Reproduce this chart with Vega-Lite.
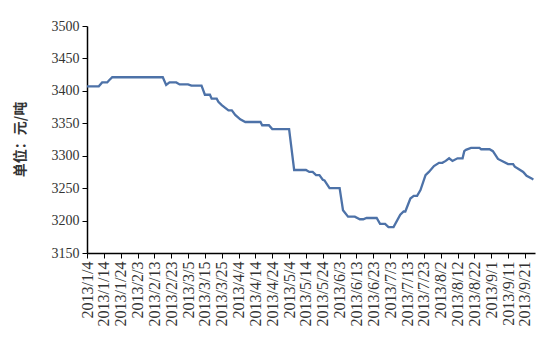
{
  "$schema": "https://vega.github.io/schema/vega-lite/v6.json",
  "width": 448,
  "height": 227,
  "autosize": {"type": "none"},
  "padding": {"left": 87, "top": 26, "right": 3, "bottom": 89},
  "background": "white",
  "config": {"view": {"stroke": null}},
  "data": {
    "values": [
      {"date": "2013/1/4", "price": 3407},
      {"date": "2013/1/11", "price": 3407},
      {"date": "2013/1/13", "price": 3413},
      {"date": "2013/1/16", "price": 3413},
      {"date": "2013/1/17", "price": 3416},
      {"date": "2013/1/19", "price": 3421},
      {"date": "2013/2/18", "price": 3421},
      {"date": "2013/2/20", "price": 3409},
      {"date": "2013/2/22", "price": 3413},
      {"date": "2013/2/26", "price": 3413},
      {"date": "2013/2/28", "price": 3410},
      {"date": "2013/3/5", "price": 3410},
      {"date": "2013/3/7", "price": 3408},
      {"date": "2013/3/13", "price": 3408},
      {"date": "2013/3/15", "price": 3394},
      {"date": "2013/3/18", "price": 3394},
      {"date": "2013/3/19", "price": 3388},
      {"date": "2013/3/22", "price": 3388},
      {"date": "2013/3/23", "price": 3383},
      {"date": "2013/3/25", "price": 3378},
      {"date": "2013/3/29", "price": 3370},
      {"date": "2013/3/31", "price": 3370},
      {"date": "2013/4/2", "price": 3363},
      {"date": "2013/4/5", "price": 3356},
      {"date": "2013/4/8", "price": 3352},
      {"date": "2013/4/17", "price": 3352},
      {"date": "2013/4/18", "price": 3347},
      {"date": "2013/4/22", "price": 3347},
      {"date": "2013/4/24", "price": 3341},
      {"date": "2013/5/4", "price": 3341},
      {"date": "2013/5/7", "price": 3278},
      {"date": "2013/5/14", "price": 3278},
      {"date": "2013/5/16", "price": 3275},
      {"date": "2013/5/18", "price": 3275},
      {"date": "2013/5/20", "price": 3270},
      {"date": "2013/5/22", "price": 3270},
      {"date": "2013/5/24", "price": 3263},
      {"date": "2013/5/25", "price": 3262},
      {"date": "2013/5/28", "price": 3250},
      {"date": "2013/6/3", "price": 3250},
      {"date": "2013/6/5", "price": 3216},
      {"date": "2013/6/8", "price": 3206},
      {"date": "2013/6/12", "price": 3206},
      {"date": "2013/6/15", "price": 3202},
      {"date": "2013/6/17", "price": 3202},
      {"date": "2013/6/19", "price": 3204},
      {"date": "2013/6/25", "price": 3204},
      {"date": "2013/6/27", "price": 3195},
      {"date": "2013/6/30", "price": 3195},
      {"date": "2013/7/2", "price": 3190},
      {"date": "2013/7/5", "price": 3190},
      {"date": "2013/7/9", "price": 3209},
      {"date": "2013/7/11", "price": 3214},
      {"date": "2013/7/12", "price": 3214},
      {"date": "2013/7/15", "price": 3234},
      {"date": "2013/7/17", "price": 3238},
      {"date": "2013/7/19", "price": 3238},
      {"date": "2013/7/21", "price": 3247},
      {"date": "2013/7/24", "price": 3270},
      {"date": "2013/7/26", "price": 3275},
      {"date": "2013/7/29", "price": 3284},
      {"date": "2013/8/1", "price": 3289},
      {"date": "2013/8/3", "price": 3289},
      {"date": "2013/8/5", "price": 3292},
      {"date": "2013/8/7", "price": 3296},
      {"date": "2013/8/9", "price": 3292},
      {"date": "2013/8/12", "price": 3296},
      {"date": "2013/8/15", "price": 3296},
      {"date": "2013/8/16", "price": 3307},
      {"date": "2013/8/17", "price": 3309},
      {"date": "2013/8/20", "price": 3312},
      {"date": "2013/8/25", "price": 3312},
      {"date": "2013/8/26", "price": 3310},
      {"date": "2013/8/31", "price": 3310},
      {"date": "2013/9/2", "price": 3307},
      {"date": "2013/9/5", "price": 3295},
      {"date": "2013/9/8", "price": 3291},
      {"date": "2013/9/11", "price": 3287},
      {"date": "2013/9/14", "price": 3287},
      {"date": "2013/9/15", "price": 3283},
      {"date": "2013/9/17", "price": 3280},
      {"date": "2013/9/20", "price": 3275},
      {"date": "2013/9/22", "price": 3269},
      {"date": "2013/9/25", "price": 3265},
      {"date": "2013/9/26", "price": 3263}
    ]
  },
  "mark": {"type": "line", "color": "#4d72a8", "strokeWidth": 2.3, "interpolate": "linear"},
  "encoding": {
    "x": {
      "field": "date",
      "type": "temporal",
      "scale": {
        "domain": [{"year": 2013, "month": 1, "date": 4}, {"year": 2013, "month": 9, "date": 27}],
        "nice": false
      },
      "axis": {
        "title": null,
        "grid": false,
        "format": "%Y/%-m/%-d",
        "labelAngle": 270,
        "labelOverlap": false,
        "labelFont": "serif",
        "labelFontSize": 16,
        "labelColor": "#333333",
        "labelPadding": 3,
        "tickSize": 5,
        "tickColor": "#000000",
        "domainColor": "#000000",
        "domainWidth": 1.5,
        "values": [
          {"year": 2013, "month": 1, "date": 4},
          {"year": 2013, "month": 1, "date": 14},
          {"year": 2013, "month": 1, "date": 24},
          {"year": 2013, "month": 2, "date": 3},
          {"year": 2013, "month": 2, "date": 13},
          {"year": 2013, "month": 2, "date": 23},
          {"year": 2013, "month": 3, "date": 5},
          {"year": 2013, "month": 3, "date": 15},
          {"year": 2013, "month": 3, "date": 25},
          {"year": 2013, "month": 4, "date": 4},
          {"year": 2013, "month": 4, "date": 14},
          {"year": 2013, "month": 4, "date": 24},
          {"year": 2013, "month": 5, "date": 4},
          {"year": 2013, "month": 5, "date": 14},
          {"year": 2013, "month": 5, "date": 24},
          {"year": 2013, "month": 6, "date": 3},
          {"year": 2013, "month": 6, "date": 13},
          {"year": 2013, "month": 6, "date": 23},
          {"year": 2013, "month": 7, "date": 3},
          {"year": 2013, "month": 7, "date": 13},
          {"year": 2013, "month": 7, "date": 23},
          {"year": 2013, "month": 8, "date": 2},
          {"year": 2013, "month": 8, "date": 12},
          {"year": 2013, "month": 8, "date": 22},
          {"year": 2013, "month": 9, "date": 1},
          {"year": 2013, "month": 9, "date": 11},
          {"year": 2013, "month": 9, "date": 21}
        ]
      }
    },
    "y": {
      "field": "price",
      "type": "quantitative",
      "scale": {"domain": [3150, 3500], "nice": false, "zero": false},
      "axis": {
        "title": "单位：元/吨",
        "titleFont": "Noto Sans CJK SC",
        "titleFontSize": 14,
        "titleFontWeight": "bold",
        "titleColor": "#333333",
        "titleX": -67,
        "titleY": 113,
        "titleAngle": 270,
        "titleAlign": "center",
        "titleBaseline": "middle",
        "grid": false,
        "format": "d",
        "values": [3150, 3200, 3250, 3300, 3350, 3400, 3450, 3500],
        "labelFont": "serif",
        "labelFontSize": 14,
        "labelColor": "#333333",
        "labelPadding": 3,
        "tickSize": 5,
        "tickColor": "#000000",
        "domainColor": "#000000",
        "domainWidth": 1.5
      }
    }
  }
}
